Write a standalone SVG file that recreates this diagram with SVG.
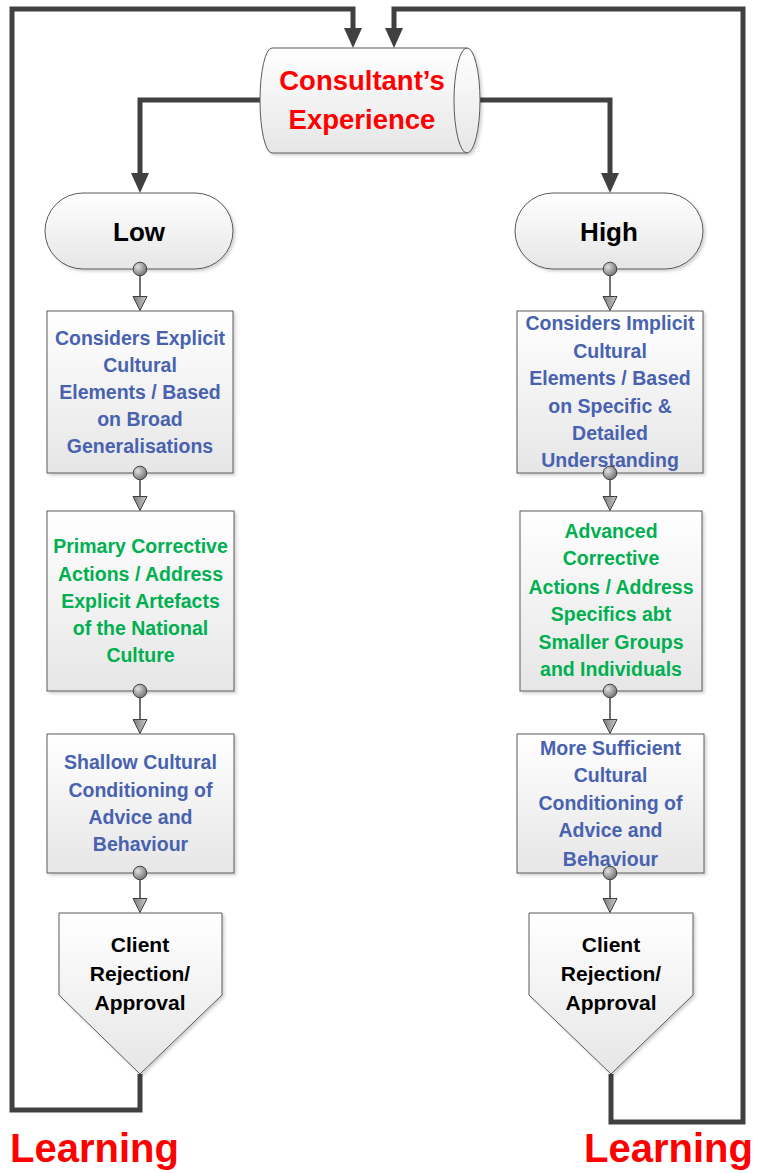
<svg xmlns="http://www.w3.org/2000/svg" width="757" height="1173" viewBox="0 0 757 1173">
<style>
.shape{stroke:#5a5a5a;stroke-width:1;fill:url(#gBox);filter:url(#sh)}
.t{font-family:"Liberation Sans",Arial,sans-serif;font-weight:bold;text-anchor:middle}
.blue{fill:#4862B0;font-size:19.5px}
.green{fill:#00B050;font-size:19.5px}
.blk{fill:#000;font-size:21px}
.red{fill:#FF0000}
.thick{fill:none;stroke:#404040;stroke-width:5;marker-end:url(#bigArrow)}
.loop{fill:none;stroke:#404040;stroke-width:5;stroke-linejoin:miter}
.thin{fill:none;stroke:#404040;stroke-width:1.5;marker-start:url(#dot);marker-end:url(#tri)}
</style>
<defs>
<linearGradient id="gBox" x1="0" y1="0" x2="0" y2="1">
<stop offset="0" stop-color="#ffffff"/>
<stop offset="1" stop-color="#e6e6e6"/>
</linearGradient>
<radialGradient id="gDot" cx="0.35" cy="0.35" r="0.7">
<stop offset="0" stop-color="#e0e0e0"/>
<stop offset="1" stop-color="#707070"/>
</radialGradient>
<linearGradient id="gTri" x1="0" y1="0" x2="0" y2="1">
<stop offset="0" stop-color="#c8c8c8"/>
<stop offset="1" stop-color="#7a7a7a"/>
</linearGradient>
<filter id="sh" x="-10%" y="-10%" width="125%" height="125%">
<feDropShadow dx="2" dy="2" stdDeviation="1.5" flood-color="#000" flood-opacity="0.18"/>
</filter>
<marker id="bigArrow" viewBox="0 0 20 18" refX="2" refY="9" markerWidth="20" markerHeight="18" markerUnits="userSpaceOnUse" orient="auto">
<path d="M0,0 L20,9 L0,18 Z" fill="#404040"/>
</marker>
<marker id="tri" viewBox="0 0 16 16" refX="0.5" refY="8" markerWidth="16" markerHeight="16" markerUnits="userSpaceOnUse" orient="auto">
<path d="M1,1 L15,8 L1,15 Z" fill="url(#gTri)" stroke="#404040" stroke-width="1"/>
</marker>
<marker id="dot" viewBox="0 0 16 16" refX="8" refY="8" markerWidth="16" markerHeight="16" markerUnits="userSpaceOnUse">
<circle cx="8" cy="8" r="6.8" fill="url(#gDot)" stroke="#404040" stroke-width="1"/>
</marker>
</defs>

<g id="connectors">
<path class="thick" d="M260,100 L140,100 L140,175"/>
<path class="thick" d="M480,100 L610,100 L610,175"/>
<path class="loop" d="M140,1074 L140,1110 L12,1110 L12,9 L353,9 L353,30" style="marker-end:url(#bigArrow)"/>
<path class="loop" d="M611,1074 L611,1122 L743,1122 L743,9 L394,9 L394,30" style="marker-end:url(#bigArrow)"/>
</g>

<g id="experience">
<path class="shape" d="M272,48 L467,48 A13,52.5 0 0 1 467,153 L272,153 A12,52.5 0 0 1 272,48 Z"/>
<path d="M467,48 A13,52.5 0 0 0 467,153" fill="none" stroke="#5a5a5a" stroke-width="1"/>
<text class="t red" x="362" y="90" font-size="27.5">Consultant’s</text>
<text class="t red" x="362" y="129" font-size="27.5">Experience</text>
</g>

<g id="low">
<rect class="shape" x="45" y="193" width="188" height="76" rx="38" ry="38"/>
<text class="t" x="139" y="241" font-size="26" fill="#000">Low</text>
</g>
<g id="high">
<rect class="shape" x="515" y="193" width="188" height="76" rx="38" ry="38"/>
<text class="t" x="609" y="241" font-size="26" fill="#000">High</text>
</g>

<g id="low-explicit">
<rect class="shape" x="47" y="311" width="186" height="162"/>
<text class="t blue" x="140"><tspan x="140" y="345">Considers Explicit</tspan><tspan x="140" y="372">Cultural</tspan><tspan x="140" y="399">Elements / Based</tspan><tspan x="140" y="426">on Broad</tspan><tspan x="140" y="453">Generalisations</tspan></text>
</g>
<g id="high-implicit">
<rect class="shape" x="517" y="311" width="186" height="162"/>
<text class="t blue" x="610"><tspan x="610" y="330">Considers Implicit</tspan><tspan x="610" y="358">Cultural</tspan><tspan x="610" y="385">Elements / Based</tspan><tspan x="610" y="413">on Specific &amp;</tspan><tspan x="610" y="440">Detailed</tspan><tspan x="610" y="467">Understanding</tspan></text>
</g>

<g id="low-primary">
<rect class="shape" x="47" y="511" width="187" height="180"/>
<text class="t green" x="140.5"><tspan x="140.5" y="553">Primary Corrective</tspan><tspan x="140.5" y="581">Actions / Address</tspan><tspan x="140.5" y="608">Explicit Artefacts</tspan><tspan x="140.5" y="635">of the National</tspan><tspan x="140.5" y="662">Culture</tspan></text>
</g>
<g id="high-advanced">
<rect class="shape" x="520" y="511" width="182" height="180"/>
<text class="t green" x="611"><tspan x="611" y="538">Advanced</tspan><tspan x="611" y="565">Corrective</tspan><tspan x="611" y="594">Actions / Address</tspan><tspan x="611" y="621">Specifics abt</tspan><tspan x="611" y="649">Smaller Groups</tspan><tspan x="611" y="676">and Individuals</tspan></text>
</g>

<g id="low-shallow">
<rect class="shape" x="47" y="734" width="187" height="139"/>
<text class="t blue" x="140.5"><tspan x="140.5" y="769">Shallow Cultural</tspan><tspan x="140.5" y="797">Conditioning of</tspan><tspan x="140.5" y="824">Advice and</tspan><tspan x="140.5" y="851">Behaviour</tspan></text>
</g>
<g id="high-sufficient">
<rect class="shape" x="517" y="734" width="187" height="139"/>
<text class="t blue" x="610.5"><tspan x="610.5" y="755">More Sufficient</tspan><tspan x="610.5" y="782">Cultural</tspan><tspan x="610.5" y="810">Conditioning of</tspan><tspan x="610.5" y="837">Advice and</tspan><tspan x="610.5" y="866">Behaviour</tspan></text>
</g>

<g id="low-client">
<path class="shape" d="M59,913 L222,913 L222,995 L140,1074 L59,995 Z"/>
<text class="t blk" x="140"><tspan x="140" y="952">Client</tspan><tspan x="140" y="981">Rejection/</tspan><tspan x="140" y="1010">Approval</tspan></text>
</g>
<g id="high-client">
<path class="shape" d="M529,913 L693,913 L693,995 L611,1074 L529,995 Z"/>
<text class="t blk" x="611"><tspan x="611" y="952">Client</tspan><tspan x="611" y="981">Rejection/</tspan><tspan x="611" y="1010">Approval</tspan></text>
</g>

<g id="flow-connectors">
<path class="thin" d="M140,269 L140,296"/>
<path class="thin" d="M140,473 L140,496"/>
<path class="thin" d="M140,691 L140,719"/>
<path class="thin" d="M140,873 L140,898"/>
<path class="thin" d="M610,269 L610,296"/>
<path class="thin" d="M610,473 L610,496"/>
<path class="thin" d="M610,691 L610,719"/>
<path class="thin" d="M610,873 L610,898"/>
</g>

<g id="labels">
<text class="t red" x="10" y="1162" font-size="40" style="text-anchor:start">Learning</text>
<text class="t red" x="584" y="1162" font-size="40" style="text-anchor:start">Learning</text>
</g>
</svg>
